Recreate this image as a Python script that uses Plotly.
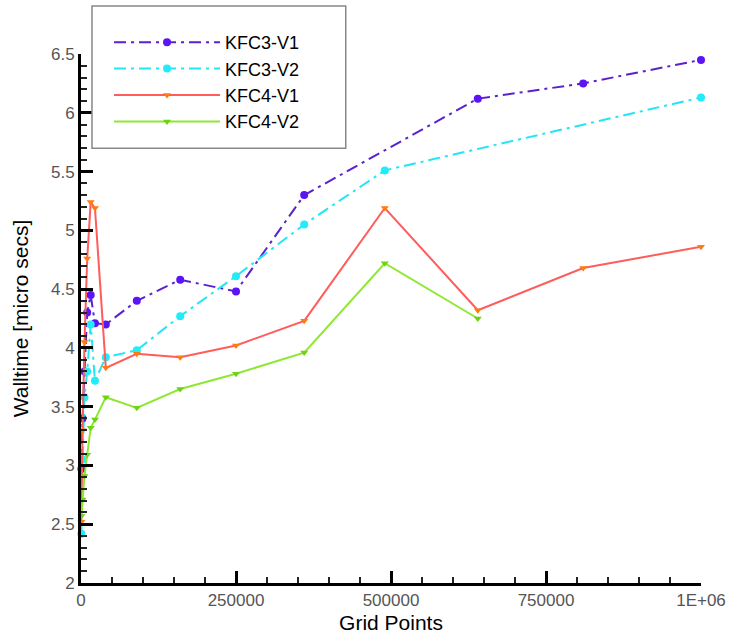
import plotly.graph_objects as go

# ---- data ----
x_c3v1 = [625, 2500, 5625, 10000, 15625, 22500, 40000, 90000, 160000, 250000, 360000, 640000, 810000, 1000000]
y_c3v1 = [2.97, 3.40, 3.80, 4.30, 4.45, 4.21, 4.20, 4.40, 4.58, 4.48, 5.30, 6.12, 6.25, 6.45]

x_c3v2 = [625, 2500, 5625, 10000, 15625, 22500, 40000, 90000, 160000, 250000, 360000, 490000, 1000000]
y_c3v2 = [2.42, 3.05, 3.58, 3.80, 4.20, 3.72, 3.92, 3.98, 4.27, 4.61, 5.05, 5.51, 6.13]

x_c4v1 = [625, 2500, 5625, 10000, 15625, 22500, 40000, 90000, 160000, 250000, 360000, 490000, 640000, 810000, 1000000]
y_c4v1 = [2.52, 3.30, 4.05, 4.76, 5.24, 5.19, 3.83, 3.95, 3.92, 4.02, 4.23, 5.19, 4.32, 4.68, 4.86]

x_c4v2 = [625, 2500, 5625, 10000, 15625, 22500, 40000, 90000, 160000, 250000, 360000, 490000, 640000]
y_c4v2 = [2.57, 2.71, 2.91, 3.09, 3.32, 3.39, 3.58, 3.49, 3.65, 3.78, 3.96, 4.72, 4.25]

x_tickvals = [0, 250000, 500000, 750000, 1000000]
x_ticktext = ["0", "250000", "500000", "750000", "1E+06"]
y_tickvals = [2, 2.5, 3, 3.5, 4, 4.5, 5, 5.5, 6, 6.5]
y_ticktext = ["2", "2.5", "3", "3.5", "4", "4.5", "5", "5.5", "6", "6.5"]

FONT = "Liberation Sans, Arial, Helvetica, sans-serif"
DASHDOT = "12px,5px,3px,5px"

fig = go.Figure()
fig.add_trace(go.Scatter(
    x=x_c3v1, y=y_c3v1, name="KFC3-V1", mode="lines+markers", cliponaxis=False,
    line=dict(color="#5a22cc", width=2, dash=DASHDOT),
    marker=dict(symbol="circle", size=8, color="#5a14f5")))
fig.add_trace(go.Scatter(
    x=x_c3v2, y=y_c3v2, name="KFC3-V2", mode="lines+markers", cliponaxis=False,
    line=dict(color="#22e6f5", width=2, dash=DASHDOT),
    marker=dict(symbol="circle", size=8, color="#22ecfa")))
fig.add_trace(go.Scatter(
    x=x_c4v1, y=y_c4v1, name="KFC4-V1", mode="lines+markers", cliponaxis=False,
    line=dict(color="#ff5c5c", width=2),
    marker=dict(symbol="triangle-down", size=7, color="#ff7a10")))
fig.add_trace(go.Scatter(
    x=x_c4v2, y=y_c4v2, name="KFC4-V2", mode="lines+markers", cliponaxis=False,
    line=dict(color="#8ee832", width=2),
    marker=dict(symbol="triangle-down", size=7, color="#6cd410")))

axis_common = dict(
    showgrid=False, zeroline=False, showline=True, linecolor="black", linewidth=3,
    ticks="inside", ticklen=12, tickwidth=2.5, tickcolor="black",
    tickfont=dict(family=FONT, size=17, color="#555555"),
    mirror=False, automargin=False,
)

fig.update_layout(
    width=733, height=637,
    margin=dict(l=81, r=32, t=54, b=54, autoexpand=False),
    paper_bgcolor="white", plot_bgcolor="white",
    font=dict(family=FONT, color="black"),
    xaxis=dict(
        range=[0, 1000000], tickmode="array", tickvals=x_tickvals, ticktext=x_ticktext,
        minor=dict(dtick=50000, ticks="inside", ticklen=6, tickwidth=1.5, tickcolor="#222222"),
        title=dict(text="Grid Points", font=dict(family=FONT, size=21, color="black"), standoff=6),
        **axis_common),
    yaxis=dict(
        range=[2, 6.5], tickmode="array", tickvals=y_tickvals, ticktext=y_ticktext,
        minor=dict(dtick=0.1, ticks="inside", ticklen=6, tickwidth=1.5, tickcolor="#222222"),
        title=dict(text="Walltime [micro secs]", font=dict(family=FONT, size=21, color="black"), standoff=17),
        **axis_common),
    legend=dict(
        x=0.0452, y=1.0567, xanchor="left", yanchor="top",
        bgcolor="rgba(0,0,0,0)", borderwidth=0,
        font=dict(family=FONT, size=18, color="black"),
        itemwidth=106,
    ),
    shapes=[dict(
        type="rect", xref="paper", yref="paper",
        x0=0.0177, x1=0.427, y0=0.822, y1=1.0907,
        line=dict(color="#888888", width=1.5), fillcolor="white", layer="above",
    )],
)

fig.write_html("out.html")
